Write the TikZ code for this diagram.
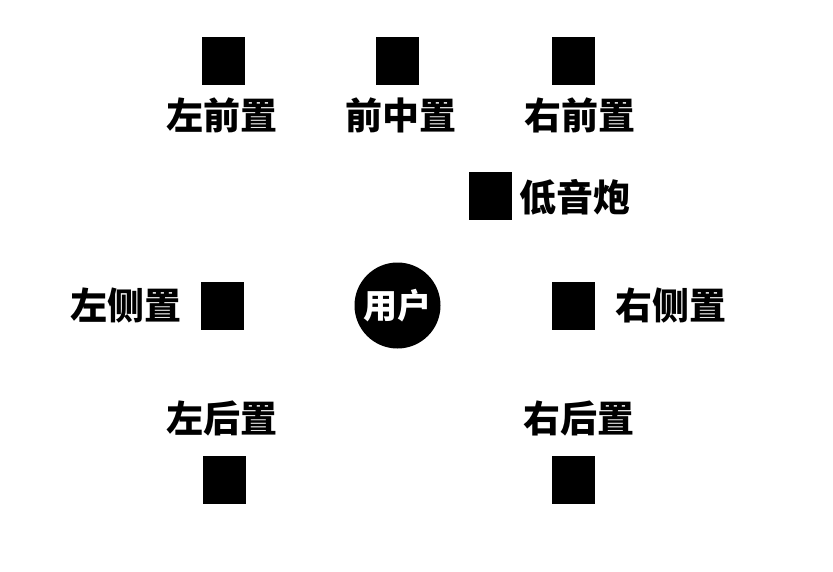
\documentclass[tikz,border=0pt]{standalone}
\usepackage{fontspec}
\newfontfamily\cjkbold{Noto Sans CJK SC Black}
\begin{document}
\begin{tikzpicture}[x=1pt,y=-1pt,
  spk/.style={rectangle,fill=black,minimum width=43pt,minimum height=48pt,inner sep=0pt},
  lbl/.style={inner sep=0pt,font=\cjkbold\fontsize{37}{40}\selectfont,text=black},
  usr/.style={circle,fill=black,minimum size=86pt,inner sep=0pt,text=white,font=\cjkbold\fontsize{34}{36}\selectfont}]
\useasboundingbox[fill=white] (0,0) rectangle (833,571);
% speakers
\node[spk] (fl) at (223.5,60.5) {};
\node[spk] (fc) at (397,60.5) {};
\node[spk] (fr) at (573,60.5) {};
\node[spk] (sub) at (490.5,196) {};
\node[spk] (sl) at (222,306) {};
\node[spk] (sr) at (573,306) {};
\node[spk] (rl) at (224,479.5) {};
\node[spk] (rr) at (573,479.5) {};
% labels
\node[lbl] (tfl) at (222,115) {左前置};
\node[lbl] (tfc) at (401,115) {前中置};
\node[lbl] (tfr) at (580,115) {右前置};
\node[lbl] (tsub) at (575,197) {低音炮};
\node[lbl] (tsl) at (125.5,305.5) {左侧置};
\node[lbl] (tsr) at (671,305.5) {右侧置};
\node[lbl] (trl) at (222,418) {左后置};
\node[lbl] (trr) at (579,418) {右后置};
% user
\node[usr] (user) at (397.5,305.5) {用户};
\end{tikzpicture}
\end{document}
